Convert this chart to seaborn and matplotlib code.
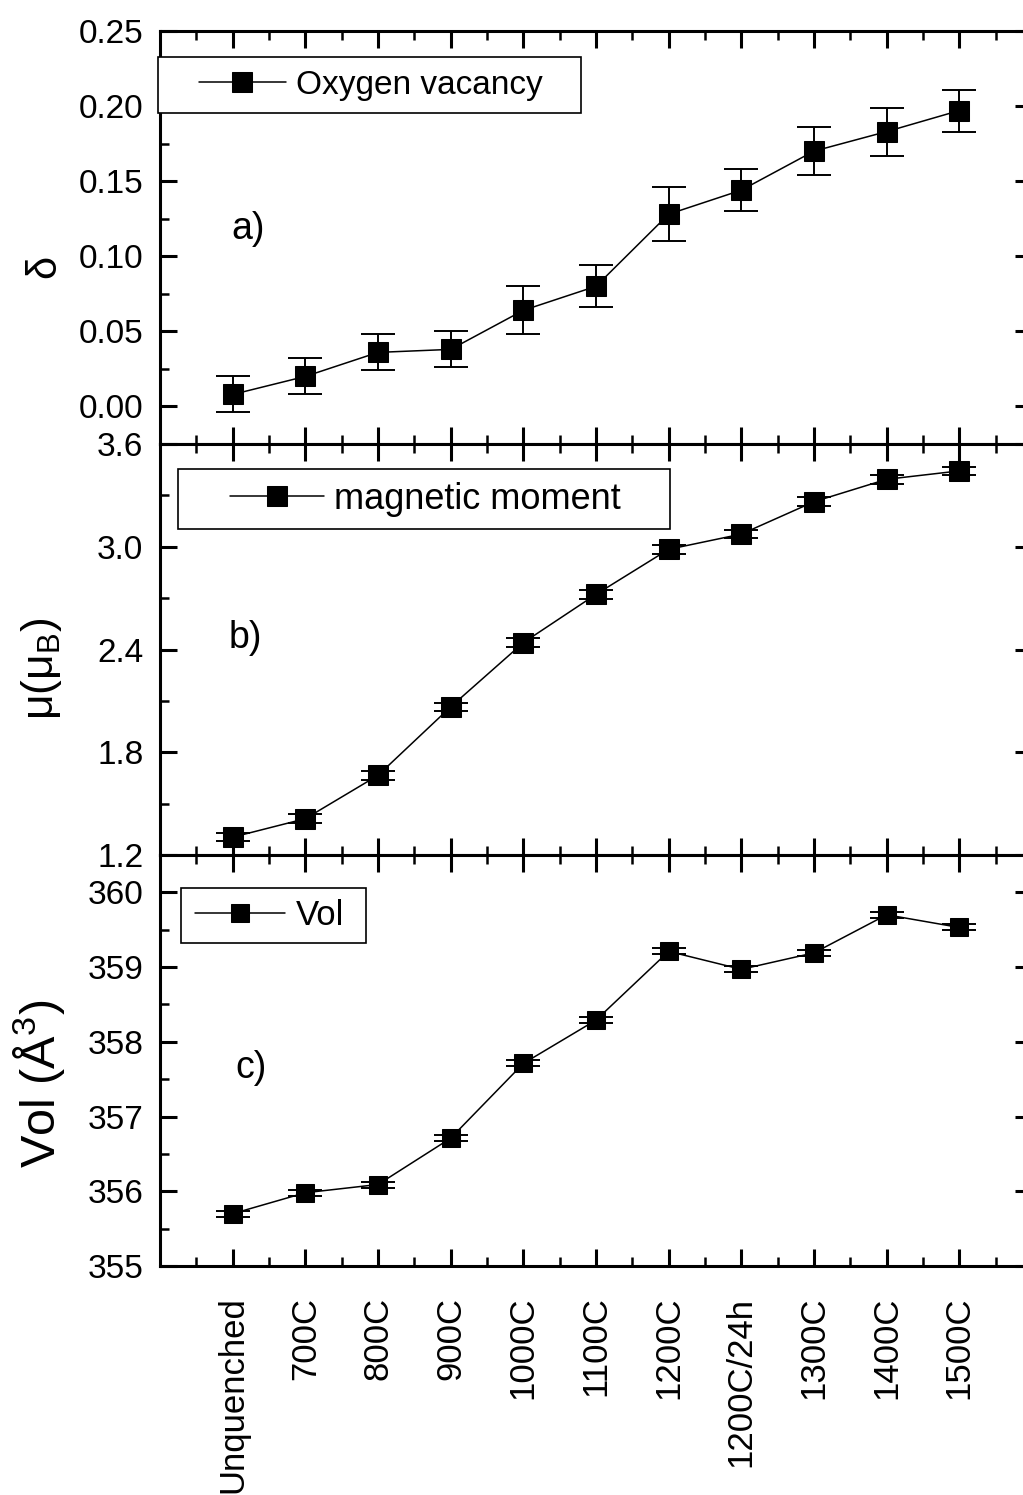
import numpy as np
import pandas as pd
import matplotlib
matplotlib.use('Agg')
import matplotlib.pyplot as plt
import seaborn as sns
from matplotlib.ticker import MultipleLocator, FormatStrFormatter
from matplotlib.patches import Rectangle

# data
categories = ['Unquenched', '700C', '800C', '900C', '1000C', '1100C',
              '1200C', '1200C/24h', '1300C', '1400C', '1500C']
delta = [0.008, 0.020, 0.036, 0.038, 0.064, 0.080, 0.128, 0.144, 0.170, 0.183, 0.197]
delta_err = [0.012, 0.012, 0.012, 0.012, 0.016, 0.014, 0.018, 0.014, 0.016, 0.016, 0.014]
moment = [1.304, 1.412, 1.665, 2.065, 2.440, 2.722, 2.985, 3.074, 3.263, 3.394, 3.443]
moment_err = [0.025, 0.025, 0.025, 0.025, 0.025, 0.025, 0.025, 0.025, 0.025, 0.025, 0.025]
vol = [355.70, 355.98, 356.09, 356.71, 357.71, 358.29, 359.21, 358.97, 359.19, 359.70, 359.53]
vol_err = [0.04, 0.04, 0.04, 0.04, 0.04, 0.04, 0.04, 0.04, 0.04, 0.04, 0.04]

df = pd.DataFrame({'pos': np.arange(len(categories)), 'cat': categories,
                   'delta': delta, 'delta_err': delta_err,
                   'moment': moment, 'moment_err': moment_err,
                   'vol': vol, 'vol_err': vol_err})

sns.set_theme(style='ticks')
plt.rcParams['font.family'] = ['Liberation Sans', 'DejaVu Sans']
plt.rcParams['mathtext.fontset'] = 'custom'
plt.rcParams['mathtext.rm'] = 'Liberation Sans'
plt.rcParams['mathtext.it'] = 'Liberation Sans:italic'
plt.rcParams['xtick.direction'] = 'in'
plt.rcParams['ytick.direction'] = 'in'
plt.rcParams['xtick.top'] = True
plt.rcParams['ytick.right'] = True
for k in ['text.color', 'axes.labelcolor', 'xtick.color', 'ytick.color',
          'xtick.labelcolor', 'ytick.labelcolor', 'axes.edgecolor']:
    plt.rcParams[k] = 'black'

fig = plt.figure(figsize=(10.23, 14.95), dpi=100)

# one dict per stacked panel
panels = [
    dict(col='delta', err='delta_err', ylabel='δ', ylsize=30, ylim=(-0.025, 0.25), major=0.05, minor=0.025,
         fmt='%.2f', leg='Oxygen vacancy', legsize=24, ms=15, tag='a)',
         rect=[0.1564, 0.7030, 0.8524, 0.2763], box=(-0.0023, 0.8015, 0.4851, 0.1355),
         legxy=(0.0447, 0.869), labxy=(-0.1330, 0.431), tagxy=(0.0814, 0.521)),
    dict(col='moment', err='moment_err', ylabel=r'μ(μ$_\mathrm{B}$)', ylsize=32, ylim=(1.2, 3.6), major=0.6, minor=0.3,
         fmt='%.1f', leg='magnetic moment', legsize=26, ms=15, tag='b)',
         rect=[0.1564, 0.4281, 0.8524, 0.2749], box=(0.0206, 0.793, 0.5644, 0.146),
         legxy=(0.080, 0.866), labxy=(-0.1360, 0.4526), tagxy=(0.079, 0.529)),
    dict(col='vol', err='vol_err', ylabel=r'Vol (Å$^{3}$)', ylsize=35, ylim=(355, 360.5), major=1, minor=0.5,
         fmt='%d', leg='Vol', legsize=25, ms=13.5, tag='c)',
         rect=[0.1564, 0.1532, 0.8524, 0.2749], box=(0.024, 0.786, 0.212, 0.134),
         legxy=(0.040, 0.853), labxy=(-0.1390, 0.444), tagxy=(0.086, 0.4806)),
]

for i, p in enumerate(panels):
    ax = fig.add_axes(p['rect'])
    ax.errorbar(df['pos'], df[p['col']], yerr=df[p['err']], fmt='none',
                ecolor='black', elinewidth=1.4, capsize=12, capthick=1.4, zorder=2)
    sns.lineplot(data=df, x='pos', y=p['col'], ax=ax, sort=False, color='black',
                 linewidth=1.1, marker='s', markersize=p['ms'], markeredgecolor='black',
                 markerfacecolor='black', label=p['leg'], zorder=3)

    ax.set_xlim(-1, 11)
    ax.set_xticks(df['pos'])
    ax.xaxis.set_minor_locator(MultipleLocator(0.5))
    ax.yaxis.set_major_locator(MultipleLocator(p['major']))
    ax.yaxis.set_minor_locator(MultipleLocator(p['minor']))
    ax.yaxis.set_major_formatter(FormatStrFormatter(p['fmt']))
    ax.set_ylim(*p['ylim'])

    ax.tick_params(which='major', length=12, width=2.2, labelsize=24, color='black')
    ax.tick_params(which='minor', length=6.5, width=1.8, color='black')
    ax.tick_params(axis='y', which='major', pad=12)
    if i == 2:
        ax.set_xticklabels(df['cat'], rotation=90)
        ax.tick_params(axis='x', which='major', pad=22, labelsize=25)
    else:
        ax.tick_params(axis='x', labelbottom=False)
    ax.set_xlabel('')

    for s in ax.spines.values():
        s.set_linewidth(2.2)
        s.set_color('black')

    ax.set_ylabel(p['ylabel'], fontsize=p['ylsize'], va='center')
    ax.yaxis.set_label_coords(*p['labxy'])

    ax.text(p['tagxy'][0], p['tagxy'][1], p['tag'], transform=ax.transAxes,
            fontsize=27, ha='left', va='center')

    bx = p['box']
    ax.add_patch(Rectangle((bx[0], bx[1]), bx[2], bx[3], transform=ax.transAxes,
                           facecolor='white', edgecolor='black', linewidth=1.2,
                           zorder=4, clip_on=False))
    ax.legend(loc='center left', bbox_to_anchor=p['legxy'], frameon=False,
              fontsize=p['legsize'], handlelength=2.6, handletextpad=0.3,
              borderpad=0, borderaxespad=0).set_zorder(6)

fig.savefig('out.png', dpi=100)
